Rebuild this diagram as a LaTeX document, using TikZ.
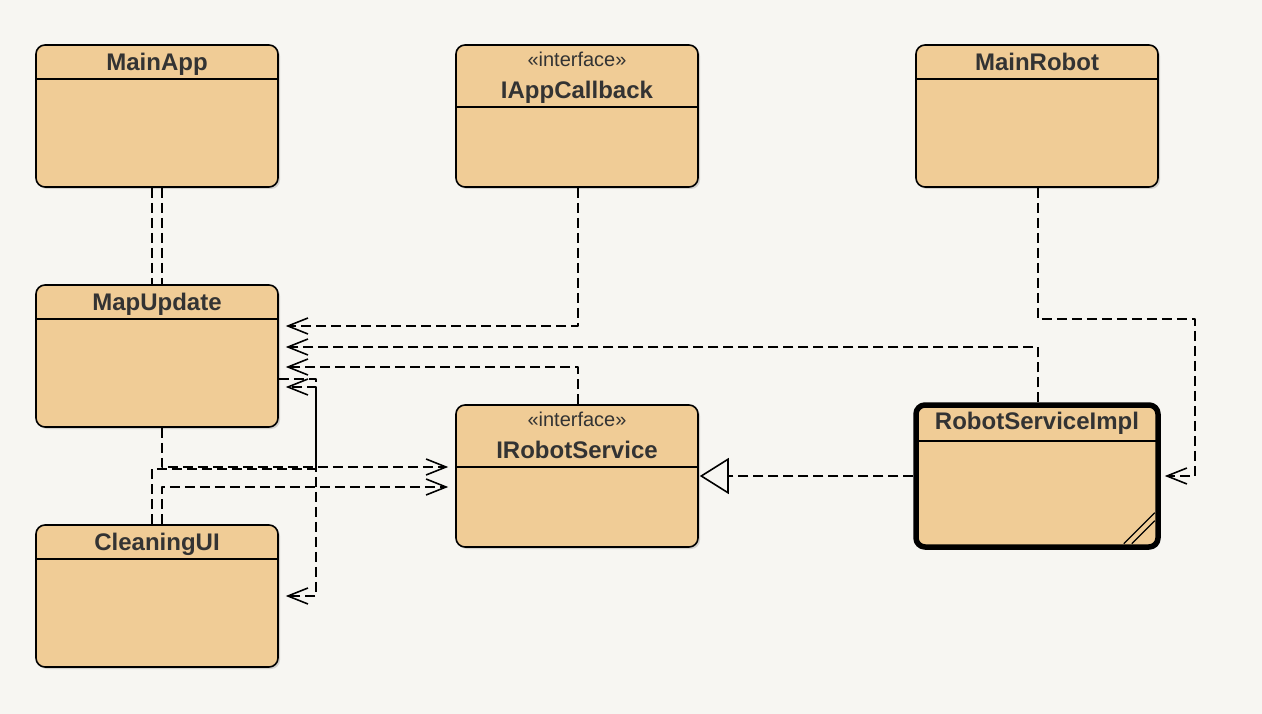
\documentclass[tikz,border=0pt]{standalone}
\usepackage{fontspec}
\setmainfont{Liberation Sans}
\usepackage{tikz}
\usetikzlibrary{arrows.meta,shadows}
\definecolor{bgcol}{HTML}{F7F6F2}
\definecolor{boxfill}{HTML}{F0CC96}
\definecolor{inkgray}{HTML}{333333}

\begin{document}
\begin{tikzpicture}[x=1pt,y=-1pt,line join=round,
        cls/.style={draw,rounded corners=9pt,fill=boxfill,line width=1.6pt,
                minimum width=242pt,minimum height=142pt,
                drop shadow={shadow xshift=2pt,shadow yshift=-2pt,opacity=0.3},
                path picture={\draw[line width=1.6pt]
                        ([yshift=-#1]path picture bounding box.north west) --
                        ([yshift=-#1]path picture bounding box.north east);}},
        cls/.default=34pt,
        clsname/.style={below,inner sep=0pt,yshift=-9pt,text=inkgray,
                font=\fontsize{24}{27}\selectfont\bfseries},
        stereo/.style={below,inner sep=0pt,yshift=-8pt,text=inkgray,
                font=\fontsize{20}{23}\selectfont},
        link/.style={line width=1.6pt,dash pattern=on 10pt off 5pt},
        dep/.style={link,-{Straight Barb[length=20pt,width=16pt]},shorten >=7pt},
        realize/.style={link,-{Triangle[length=29pt,width=36pt,fill=bgcol]},shorten >=1pt}]

        \fill[bgcol] (0,0) rectangle (1262,714);
        \useasboundingbox (0,0) rectangle (1262,714);

        \node[cls] (mainapp) at (157,116) [label={[clsname]north:MainApp}] {};
        \node[cls=62pt] (iappcb) at (577,116)
                [label={[stereo]north:«interface»},
                 label={[clsname,yshift=-28pt]north:IAppCallback}] {};
        \node[cls] (mainrobot) at (1037,116) [label={[clsname]north:MainRobot}] {};
        \node[cls] (mapupdate) at (157,356) [label={[clsname]north:MapUpdate}] {};
        \node[cls=62pt] (irobot) at (577,476)
                [label={[stereo]north:«interface»},
                 label={[clsname,yshift=-28pt]north:IRobotService}] {};
        \node[cls=36pt,line width=5.5pt] (rsimpl) at (1037,476)
                [label={[clsname,yshift=-1pt]north:RobotServiceImpl}] {};
        \node[cls] (cleaningui) at (157,596) [label={[clsname]north:CleaningUI}] {};

        \coordinate (rail) at (316,469);
        \coordinate (rside) at (1195,319);

        \draw[link] ([xshift=-5pt]mainapp.south) -- ([xshift=-5pt]mapupdate.north);
        \draw[link] ([xshift=5pt]mainapp.south) -- ([xshift=5pt]mapupdate.north);
        \draw[dep] ([xshift=1pt]iappcb.south) |- ([yshift=30pt]mapupdate.east);
        \draw[dep] ([xshift=1pt]rsimpl.north) |- ([yshift=9pt]mapupdate.east);
        \draw[dep] ([xshift=1pt]irobot.north) |- ([yshift=-11pt]mapupdate.east);
        \draw[dep] ([xshift=-5pt]cleaningui.north) |- (rail) |- ([yshift=-31pt]mapupdate.east);
        \draw[dep] ([yshift=-23pt]mapupdate.east) -| (rail) |- (cleaningui.east);
        \draw[dep] ([xshift=5pt]mapupdate.south) |- ([yshift=9pt]irobot.west);
        \draw[dep] ([xshift=5pt]cleaningui.north) |- ([yshift=-11pt]irobot.west);
        \draw[dep,shorten >=4pt] ([xshift=1pt]mainrobot.south) |- (rside) |- (rsimpl.east);
        \draw[realize] (rsimpl.west) -- (irobot.east);

        \draw[line width=1.3pt] ([xshift=-37pt,yshift=6pt]rsimpl.south east) -- ([xshift=-6pt,yshift=37pt]rsimpl.south east);
        \draw[line width=1.3pt] ([xshift=-29pt,yshift=6pt]rsimpl.south east) -- ([xshift=-6pt,yshift=29pt]rsimpl.south east);
\end{tikzpicture}
\end{document}
